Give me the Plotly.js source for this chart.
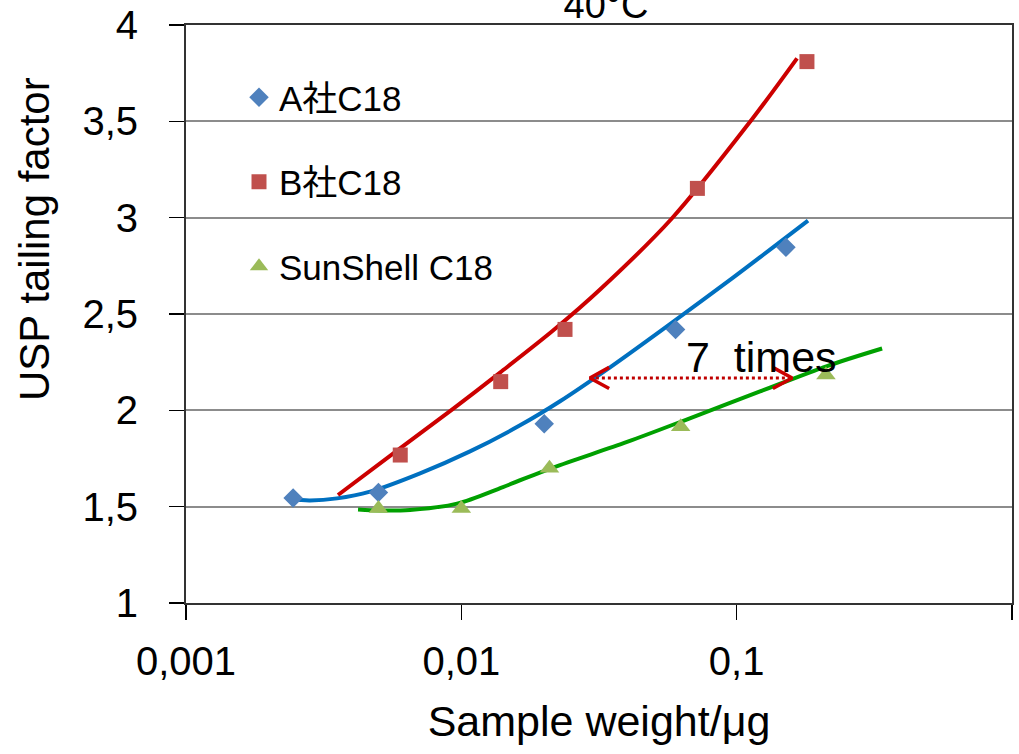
<!DOCTYPE html>
<html>
<head>
<meta charset="utf-8">
<script src="https://cdn.plot.ly/plotly-3.0.1.min.js"></script>
<style>
  html, body { margin: 0; padding: 0; background: #ffffff; }
  #chart { width: 1019px; height: 754px; }
</style>
</head>
<body>
<div id="chart"></div>
<script>
// ---- data ----
const seriesNames = ['A社C18', 'B社C18', 'SunShell C18'];

// measured points
const xA = [0.00245, 0.005, 0.02, 0.06, 0.151];
const yA = [1.545, 1.573, 1.93, 2.42, 2.846];
const xB = [0.006, 0.0139, 0.0238, 0.072, 0.18];
const yB = [1.768, 2.149, 2.42, 3.152, 3.81];
const xC = [0.005, 0.01, 0.0209, 0.0626, 0.211];
const yC = [1.49, 1.49, 1.699, 1.915, 2.183];

// trend curves
const trendAx = [0.002387, 0.002821, 0.003536, 0.004661, 0.007079, 0.01075, 0.01634, 0.02283, 0.03468, 0.05875, 0.09703, 0.1816];
const trendAy = [1.538, 1.532, 1.543, 1.578, 1.673, 1.787, 1.922, 2.047, 2.223, 2.459, 2.689, 2.985];
const trendBx = [0.003565, 0.005989, 0.009251, 0.01382, 0.02153, 0.0319, 0.05825, 0.1119, 0.1657];
const trendBy = [1.5605, 1.803, 2.004, 2.196, 2.414, 2.627, 2.997, 3.498, 3.827];
const trendCx = [0.004215, 0.005067, 0.006514, 0.009647, 0.01417, 0.02153, 0.03998, 0.06945, 0.1216, 0.213, 0.3375];
const trendCy = [1.485, 1.480, 1.483, 1.516, 1.602, 1.703, 1.836, 1.965, 2.098, 2.230, 2.321];

// "7 times" comparison arrow (tips of the double arrow)
const arrowX = [0.0293, 0.159];
const arrowY = 2.168;
const arrowLabel = '7\u00a0\u00a0times';
const titleText = '40°C';
const xTitle = 'Sample weight/μg';
const yTitle = 'USP tailing factor';

const xTickVals = [0.001, 0.01, 0.1, 1];
const xTickText = ['0,001', '0,01', '0,1', '1'];
const yTickVals = [1, 1.5, 2, 2.5, 3, 3.5, 4];
const yTickText = ['1', '1,5', '2', '2,5', '3', '3,5', '4'];

// ---- styles ----
const FONT = 'Liberation Sans, Arial, Noto Sans CJK JP, sans-serif';
const C_A = '#4F81BD', C_B = '#C0504D', C_C = '#9BBB59';
const L_A = '#0070C0', L_B = '#CC0000', L_C = '#00A000';
const ARROW_C = '#C00000';
// chevron arm size (in axis units: decades / y units)
const HEAD_DX = 0.07, HEAD_DY = 0.055;

const f = Math.pow(10, HEAD_DX);
const headL = {x: [arrowX[0] * f, arrowX[0], arrowX[0] * f], y: [arrowY + HEAD_DY, arrowY, arrowY - HEAD_DY]};
const headR = {x: [arrowX[1] / f, arrowX[1], arrowX[1] / f], y: [arrowY + HEAD_DY, arrowY, arrowY - HEAD_DY]};

const spl = 0.9;
const traces = [
  {x: trendAx, y: trendAy, mode: 'lines', line: {color: L_A, width: 4, shape: 'spline', smoothing: spl}, showlegend: false, hoverinfo: 'skip'},
  {x: trendBx, y: trendBy, mode: 'lines', line: {color: L_B, width: 4, shape: 'spline', smoothing: spl}, showlegend: false, hoverinfo: 'skip'},
  {x: trendCx, y: trendCy, mode: 'lines', line: {color: L_C, width: 4, shape: 'spline', smoothing: spl}, showlegend: false, hoverinfo: 'skip'},
  {x: arrowX, y: [arrowY, arrowY], mode: 'lines', line: {color: ARROW_C, width: 3, dash: 'dot'}, showlegend: false, hoverinfo: 'skip'},
  {x: headL.x, y: headL.y, mode: 'lines', line: {color: '#CC0000', width: 3.5}, showlegend: false, hoverinfo: 'skip'},
  {x: headR.x, y: headR.y, mode: 'lines', line: {color: '#CC0000', width: 3.5}, showlegend: false, hoverinfo: 'skip'},
  {x: xA, y: yA, name: seriesNames[0], mode: 'markers', legendgroup: 'a',
   marker: {symbol: 'diamond', size: 15, color: C_A}},
  {x: xB, y: yB, name: seriesNames[1], mode: 'markers', legendgroup: 'b',
   marker: {symbol: 'square', size: 15, color: C_B}},
  {x: xC, y: yC, name: seriesNames[2], mode: 'markers', legendgroup: 'c',
   marker: {symbol: 'triangle-up', size: 17, color: C_C}}
];

const layout = {
  width: 1019, height: 754,
  margin: {l: 186, r: 7, t: 25, b: 151},
  paper_bgcolor: '#ffffff', plot_bgcolor: '#ffffff',
  font: {family: FONT, color: '#000000', size: 40},
  title: {text: titleText, font: {family: FONT, size: 38, color: '#000'},
          xref: 'container', yref: 'container', x: 606 / 1019, xanchor: 'center',
          y: 1 - 4.5 / 754, yanchor: 'middle'},
  xaxis: {
    type: 'log', range: [-3, 0], autorange: false,
    tickvals: xTickVals, ticktext: xTickText,
    ticks: 'outside', ticklen: 15, tickwidth: 1.5, tickcolor: '#000',
    ticklabelstandoff: 7,
    showline: true, linecolor: '#333', linewidth: 2, mirror: true,
    showgrid: false, zeroline: false,
    tickfont: {size: 40},
    title: {text: xTitle, font: {size: 43}, standoff: 24}
  },
  yaxis: {
    range: [1, 4], autorange: false,
    tickvals: yTickVals, ticktext: yTickText,
    ticks: 'outside', ticklen: 15, tickwidth: 1.5, tickcolor: '#000',
    ticklabelstandoff: 23,
    showline: true, linecolor: '#333', linewidth: 2, mirror: true,
    showgrid: true, gridcolor: '#8c8c8c', gridwidth: 2, zeroline: false,
    tickfont: {size: 40}
  },
  showlegend: true,
  legend: {
    x: (239 - 186) / 826, xanchor: 'left', y: (603 - 68) / 578, yanchor: 'top',
    bgcolor: 'rgba(0,0,0,0)', borderwidth: 0,
    font: {family: FONT, size: 35, color: '#000'},
    traceorder: 'grouped', tracegroupgap: 36
  },
  annotations: [
    {xref: 'paper', yref: 'paper', x: (761 - 186) / 826, y: (603 - 356.5) / 578,
     xanchor: 'center', yanchor: 'middle', showarrow: false,
     text: arrowLabel, font: {family: FONT, size: 43, color: '#000'}},
    {xref: 'paper', yref: 'paper', x: (34 - 186) / 826, y: (603 - 239) / 578,
     xanchor: 'center', yanchor: 'middle', showarrow: false, textangle: -90,
     text: yTitle, font: {family: FONT, size: 42, color: '#000'}}
  ]
};

Plotly.newPlot('chart', traces, layout, {displayModeBar: false, staticPlot: true});
</script>
</body>
</html>
